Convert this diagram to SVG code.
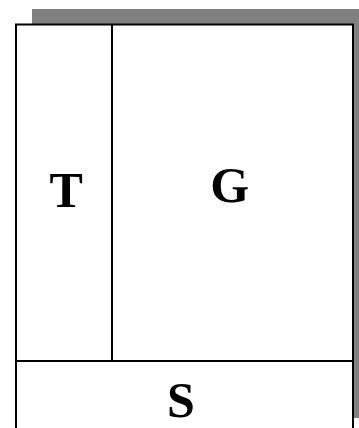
<svg xmlns="http://www.w3.org/2000/svg" width="359" height="428" viewBox="0 0 359 428">
<style>
.box{fill:#fff;stroke:#000;stroke-width:2}
.ln{stroke:#000;stroke-width:2;fill:none}
.lbl{font-family:"Liberation Serif","Times New Roman",serif;font-weight:bold;font-size:50px;text-anchor:middle;fill:#000}
</style>
<rect x="0" y="0" width="359" height="428" fill="#fff"/>
<rect id="shadow" x="32" y="9" width="340" height="409" fill="#808080"/>
<g id="frame"><rect class="box" x="16" y="24.5" width="337" height="410"/></g>
<g id="connectors">
<line class="ln" x1="112" y1="24.5" x2="112" y2="361"/>
<line class="ln" x1="16" y1="361" x2="353" y2="361"/>
</g>
<g id="T"><text class="lbl" x="66.3" y="206.5">T</text></g>
<g id="G"><text class="lbl" x="229.7" y="202">G</text></g>
<g id="S"><text class="lbl" x="181" y="417">S</text></g>
</svg>
